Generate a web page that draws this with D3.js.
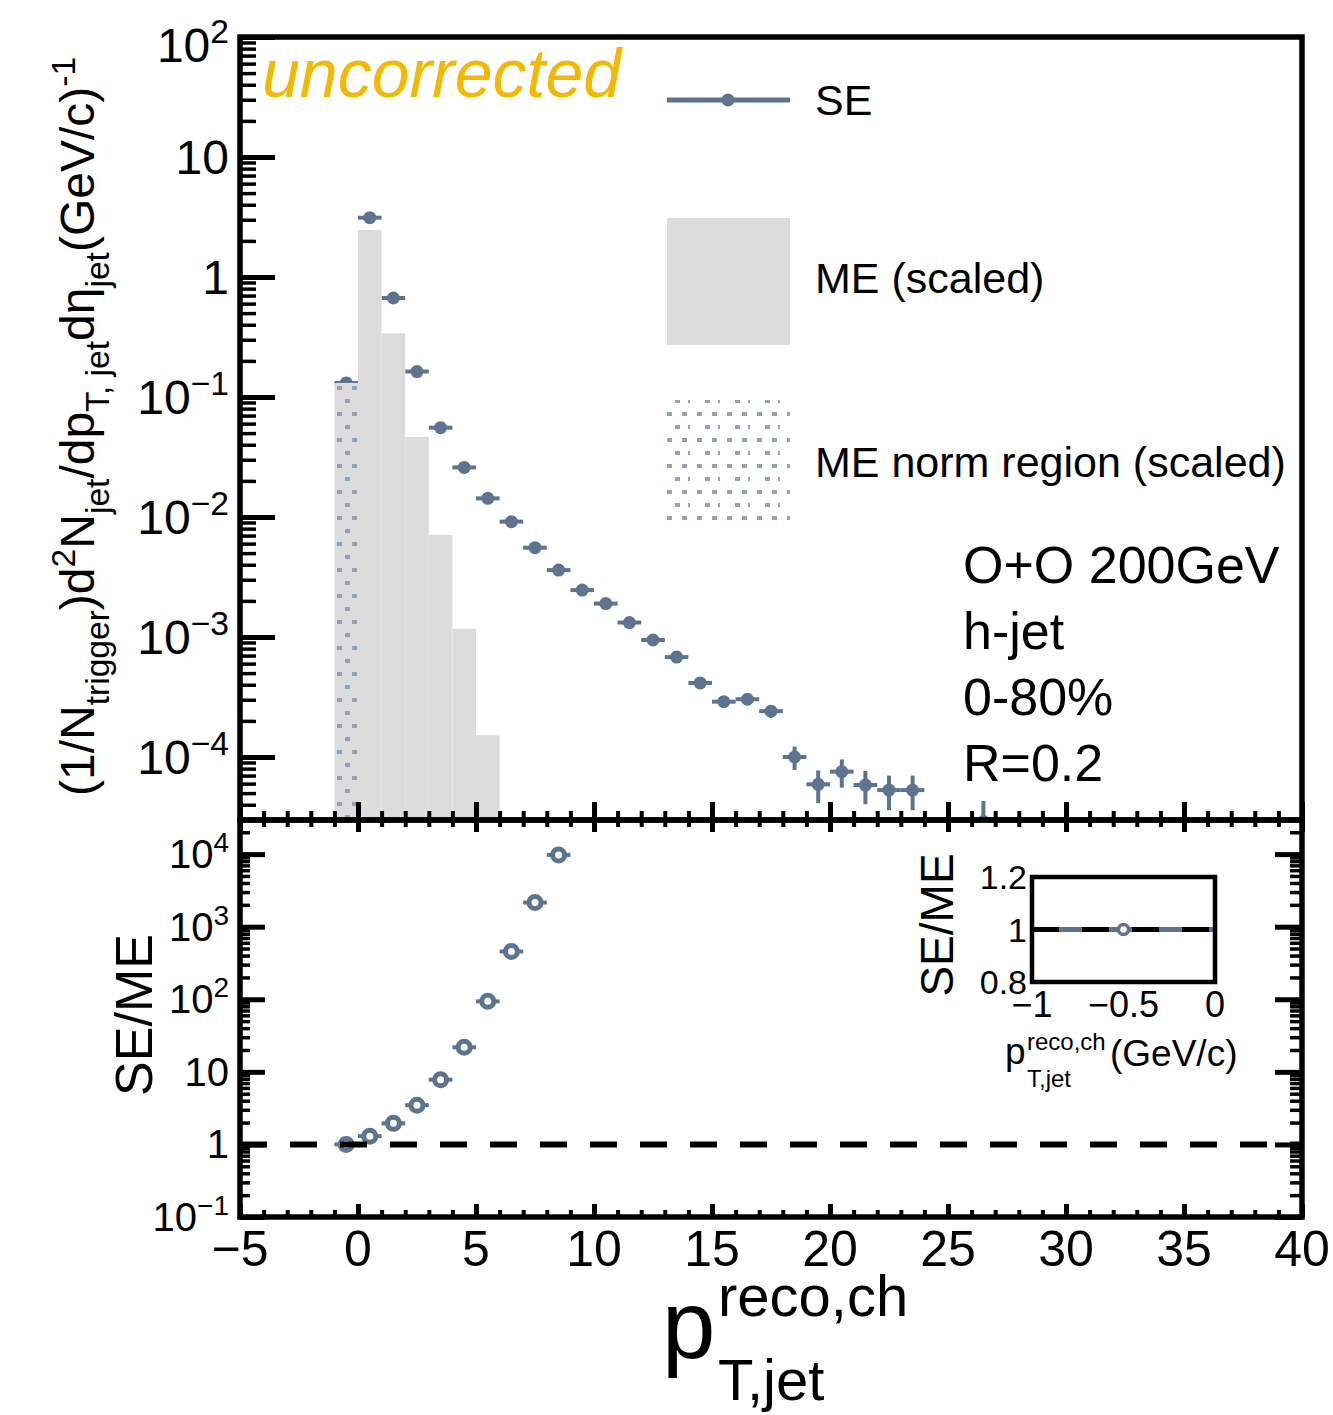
<!DOCTYPE html>
<html>
<head>
<meta charset="utf-8">
<script src="https://cdn.jsdelivr.net/npm/d3@7"></script>
<style>
  body { margin: 0; background: #fff; }
  text { font-family: "Liberation Sans", Arial, Helvetica, sans-serif; fill: #000; }
</style>
</head>
<body>
<svg id="chart" width="1333" height="1415"></svg>
<script>
// ---- data ----
// same-event (SE) spectrum, bin centres in GeV/c
const seX   = [-0.5, 0.5, 1.5, 2.5, 3.5, 4.5, 5.5, 6.5, 7.5, 8.5, 9.5, 10.5, 11.5, 12.5,
               13.5, 14.5, 15.5, 16.5, 17.5, 18.5, 19.5, 20.5, 21.5, 22.5, 23.5, 26.5];
const seY   = [0.131, 3.12, 0.668, 0.163, 0.0555, 0.0259, 0.0143, 0.00915, 0.00555, 0.00361,
               0.00246, 0.00190, 0.00132, 9.44e-4, 6.8e-4, 4.14e-4, 2.89e-4, 3.03e-4, 2.41e-4,
               1.0e-4, 5.92e-5, 7.55e-5, 5.84e-5, 5.3e-5, 5.3e-5, 2.9e-5];
const seErr = [0.002, 0.03, 0.008, 0.002, 0.0008, 0.0004, 0.0003, 0.0002, 0.00015, 0.0001,
               0.00008, 0.00007, 0.00006, 0.00005, 0.00004, 0.00003, 0.000028, 0.00003, 0.000028,
               0.000022, 0.000018, 0.00002, 0.000018, 0.000017, 0.000017, 0.000014];

// mixed-event (ME, scaled) histogram, bin low edges (width 1)
const meLo = [-1, 0, 1, 2, 3, 4, 5];
const meY  = [0.131, 2.47, 0.34, 0.0464, 0.0071, 0.00117, 1.52e-4];
const normRegion = [-1, 0];

// SE/ME ratio
const ratioX = [-0.5, 0.5, 1.5, 2.5, 3.5, 4.5, 5.5, 6.5, 7.5, 8.5];
const ratioY = [1, 1.30, 1.95, 3.47, 7.8, 21.8, 93.6, 456, 2150, 9750];

// inset (norm region ratio)
const insetX = [-0.5];
const insetY = [1];

// tick labels
const xTicks = [-5, 0, 5, 10, 15, 20, 25, 30, 35, 40];
const topYTicks = [[100, "10", "2"], [10, "10", ""], [1, "1", ""], [0.1, "10", "−1"],
                   [0.01, "10", "−2"], [0.001, "10", "−3"], [1e-4, "10", "−4"]];
const botYTicks = [[1e4, "10", "4"], [1e3, "10", "3"], [100, "10", "2"], [10, "10", ""],
                   [1, "1", ""], [0.1, "10", "−1"]];
const insetXTicks = [[-1, "−1"], [-0.5, "−0.5"], [0, "0"]];
const insetYTicks = [[1.2, "1.2"], [1, "1"], [0.8, "0.8"]];
const infoLines = ["O+O 200GeV", "h-jet", "0-80%", "R=0.2"];

// ---- style ----
const seColor = "#5c7490";
const meColor = "#dcdcdc";
const dotColor = "#93a3b6";

const svg = d3.select("#chart");

// scales
const x = d3.scaleLinear().domain([-5, 40]).range([240, 1302]);
const yTop = d3.scaleLog().domain([Math.pow(10, -4.525), 100]).range([820, 37]);
const yBot = d3.scaleLog().domain([0.1, Math.pow(10, 4.47)]).range([1217, 820]);
const xIn = d3.scaleLinear().domain([-1, 0]).range([1032, 1215]);
const yIn = d3.scaleLinear().domain([0.8, 1.2]).range([982, 877]);

// hatch pattern for the norm region
const defs = svg.append("defs");
const pat = defs.append("pattern")
  .attr("id", "dots")
  .attr("patternUnits", "userSpaceOnUse")
  .attr("x", 337).attr("y", 386)
  .attr("width", 30).attr("height", 26);
pat.append("rect").attr("x", 0).attr("y", 0).attr("width", 5).attr("height", 4).attr("fill", dotColor);
pat.append("rect").attr("x", 15).attr("y", 0).attr("width", 5).attr("height", 4).attr("fill", dotColor);
pat.append("rect").attr("x", 8).attr("y", 13).attr("width", 5).attr("height", 4).attr("fill", dotColor);
pat.append("rect").attr("x", 21).attr("y", 13).attr("width", 2).attr("height", 4).attr("fill", dotColor);

defs.append("clipPath").attr("id", "clipTop")
  .append("rect").attr("x", 240).attr("y", 37).attr("width", 1062).attr("height", 783);
defs.append("clipPath").attr("id", "clipBot")
  .append("rect").attr("x", 240).attr("y", 820).attr("width", 1062).attr("height", 397);

// helper: text with sub/superscripts
function rich(g, parts, size) {
  const t = g.append("text").attr("font-size", size);
  let cur = 0;
  parts.forEach(function(p) {
    const kind = p[1] || "n";
    const target = kind === "sub" ? size * 0.32 : kind === "sup" ? -size * 0.4 : 0;
    t.append("tspan")
      .attr("dy", target - cur)
      .attr("font-size", kind === "n" ? size : size * 0.7)
      .text(p[0]);
    cur = target;
  });
  return t;
}

// ================= TOP PANEL =================
const topG = svg.append("g").attr("clip-path", "url(#clipTop)");

// SE points (drawn first, ME bars cover the first one partially)
const se = seX.map(function(d, i) { return {x: d, y: seY[i], e: seErr[i]}; });
topG.selectAll("line.sev").data(se).enter().append("line")
  .attr("x1", d => x(d.x)).attr("x2", d => x(d.x))
  .attr("y1", d => yTop(d.y + d.e)).attr("y2", d => yTop(Math.max(d.y - d.e, 1e-6)))
  .attr("stroke", seColor).attr("stroke-width", 4);
topG.selectAll("line.seh").data(se).enter().append("line")
  .attr("x1", d => x(d.x - 0.5)).attr("x2", d => x(d.x + 0.5))
  .attr("y1", d => yTop(d.y)).attr("y2", d => yTop(d.y))
  .attr("stroke", seColor).attr("stroke-width", 4);
topG.selectAll("circle.se").data(se).enter().append("circle")
  .attr("cx", d => x(d.x)).attr("cy", d => yTop(d.y)).attr("r", 6.5)
  .attr("fill", seColor);

// ME histogram
topG.selectAll("rect.me").data(meLo).enter().append("rect")
  .attr("x", d => x(d))
  .attr("width", d => x(d + 1) - x(d))
  .attr("y", (d, i) => yTop(meY[i]))
  .attr("height", (d, i) => 820 - yTop(meY[i]))
  .attr("fill", meColor);
// norm region overlay
topG.append("rect")
  .attr("x", x(normRegion[0]))
  .attr("width", x(normRegion[1]) - x(normRegion[0]))
  .attr("y", yTop(meY[0]))
  .attr("height", 820 - yTop(meY[0]))
  .attr("fill", "url(#dots)");

// axes of top panel
function styleAxis(g, w) {
  g.select(".domain").remove();
  g.selectAll(".tick line").attr("stroke", "#000").attr("stroke-width", w);
  g.selectAll(".tick text").remove();
}
const decadesTop = d3.range(-4, 3).map(e => Math.pow(10, e));
const minorsTop = [];
d3.range(-5, 2).forEach(function(e) {
  d3.range(2, 10).forEach(function(m) {
    const v = m * Math.pow(10, e);
    if (v > yTop.domain()[0] && v < 100) minorsTop.push(v);
  });
});
svg.append("g").attr("transform", "translate(240,0)")
  .call(d3.axisRight(yTop).tickValues(decadesTop).tickSize(35).tickSizeOuter(0))
  .call(g => styleAxis(g, 5));
svg.append("g").attr("transform", "translate(240,0)")
  .call(d3.axisRight(yTop).tickValues(minorsTop).tickSize(16).tickSizeOuter(0))
  .call(g => styleAxis(g, 3.5));

const xMajor = d3.range(-5, 41, 5);
const xMinor = d3.range(-5, 41, 1).filter(v => v % 5 !== 0);
svg.append("g").attr("transform", "translate(0,820)")
  .call(d3.axisTop(x).tickValues(xMajor).tickSize(18).tickSizeOuter(0))
  .call(g => styleAxis(g, 5));
svg.append("g").attr("transform", "translate(0,820)")
  .call(d3.axisTop(x).tickValues(xMinor).tickSize(9).tickSizeOuter(0))
  .call(g => styleAxis(g, 4));

// frame
svg.append("rect").attr("x", 240).attr("y", 37).attr("width", 1062).attr("height", 783)
  .attr("fill", "none").attr("stroke", "#000").attr("stroke-width", 5.5);

// y tick labels (top)
topYTicks.forEach(function(t) {
  const base = Math.max(yTop(t[0]) + 17, 62);
  const g = svg.append("g").attr("transform", "translate(229," + base + ")");
  const parts = [[t[1]]];
  if (t[2]) parts.push([t[2], "sup"]);
  rich(g, parts, 48).attr("text-anchor", "end");
});

// y title (top)
const yt = svg.append("g").attr("transform", "translate(94,796) rotate(-90)");
rich(yt, [["(1/N"], ["trigger", "sub"], [")d"], ["2", "sup"], ["N"], ["jet", "sub"],
          ["/dp"], ["T, jet", "sub"], ["dη"], ["jet", "sub"], ["(GeV/c)"], ["-1", "sup"]], 48);

// "uncorrected"
svg.append("text").attr("x", 262).attr("y", 97)
  .attr("font-size", 68).attr("font-style", "italic")
  .style("fill", "#f5b800").text("uncorrected");

// legend
const leg = svg.append("g");
leg.append("line").attr("x1", 667).attr("x2", 790).attr("y1", 100).attr("y2", 100)
  .attr("stroke", seColor).attr("stroke-width", 5);
leg.append("circle").attr("cx", 728).attr("cy", 100).attr("r", 6.5).attr("fill", seColor);
leg.append("text").attr("x", 815).attr("y", 115).attr("font-size", 43).text("SE");
leg.append("rect").attr("x", 667).attr("y", 218).attr("width", 123).attr("height", 127)
  .attr("fill", meColor);
leg.append("text").attr("x", 815).attr("y", 293).attr("font-size", 43).text("ME (scaled)");
leg.append("rect").attr("x", 667).attr("y", 400).attr("width", 123).attr("height", 122)
  .attr("fill", "url(#dots)");
leg.append("text").attr("x", 815).attr("y", 477).attr("font-size", 43).text("ME norm region (scaled)");

// info text
svg.selectAll("text.info").data(infoLines).enter().append("text")
  .attr("class", "info")
  .attr("x", 963).attr("y", (d, i) => 583 + i * 66)
  .attr("font-size", 52).text(d => d);

// ================= BOTTOM PANEL =================
const botG = svg.append("g").attr("clip-path", "url(#clipBot)");
const ratio = ratioX.map((d, i) => ({x: d, y: ratioY[i]}));
botG.selectAll("line.rh").data(ratio).enter().append("line")
  .attr("x1", d => x(d.x - 0.5)).attr("x2", d => x(d.x + 0.5))
  .attr("y1", d => yBot(d.y)).attr("y2", d => yBot(d.y))
  .attr("stroke", seColor).attr("stroke-width", 4);
botG.selectAll("circle.r").data(ratio).enter().append("circle")
  .attr("cx", d => x(d.x)).attr("cy", d => yBot(d.y)).attr("r", 6)
  .attr("fill", "#fff").attr("stroke", seColor).attr("stroke-width", 5);
botG.append("line")
  .attr("x1", x(-5)).attr("x2", x(40)).attr("y1", yBot(1)).attr("y2", yBot(1))
  .attr("stroke", "#000").attr("stroke-width", 6).attr("stroke-dasharray", "27,23");

const decadesBot = d3.range(-1, 5).map(e => Math.pow(10, e));
const minorsBot = [];
d3.range(-1, 5).forEach(function(e) {
  d3.range(2, 10).forEach(function(m) {
    const v = m * Math.pow(10, e);
    if (v < yBot.domain()[1]) minorsBot.push(v);
  });
});
svg.append("g").attr("transform", "translate(240,0)")
  .call(d3.axisRight(yBot).tickValues(decadesBot).tickSize(25).tickSizeOuter(0))
  .call(g => styleAxis(g, 5));
svg.append("g").attr("transform", "translate(240,0)")
  .call(d3.axisRight(yBot).tickValues(minorsBot).tickSize(10).tickSizeOuter(0))
  .call(g => styleAxis(g, 3.5));
svg.append("g").attr("transform", "translate(1302,0)")
  .call(d3.axisLeft(yBot).tickValues(decadesBot).tickSize(27).tickSizeOuter(0))
  .call(g => styleAxis(g, 5));
svg.append("g").attr("transform", "translate(1302,0)")
  .call(d3.axisLeft(yBot).tickValues(minorsBot).tickSize(12).tickSizeOuter(0))
  .call(g => styleAxis(g, 3.5));
svg.append("g").attr("transform", "translate(0,820)")
  .call(d3.axisBottom(x).tickValues(xMajor).tickSize(12).tickSizeOuter(0))
  .call(g => styleAxis(g, 5));
svg.append("g").attr("transform", "translate(0,820)")
  .call(d3.axisBottom(x).tickValues(xMinor).tickSize(7).tickSizeOuter(0))
  .call(g => styleAxis(g, 4));
svg.append("g").attr("transform", "translate(0,1217)")
  .call(d3.axisTop(x).tickValues(xMajor).tickSize(13).tickSizeOuter(0))
  .call(g => styleAxis(g, 5));
svg.append("g").attr("transform", "translate(0,1217)")
  .call(d3.axisTop(x).tickValues(xMinor).tickSize(7).tickSizeOuter(0))
  .call(g => styleAxis(g, 4));

svg.append("rect").attr("x", 240).attr("y", 820).attr("width", 1062).attr("height", 397)
  .attr("fill", "none").attr("stroke", "#000").attr("stroke-width", 5.5);

botYTicks.forEach(function(t) {
  const g = svg.append("g").attr("transform", "translate(229," + (yBot(t[0]) + 14) + ")");
  const parts = [[t[1]]];
  if (t[2]) parts.push([t[2], "sup"]);
  rich(g, parts, 40).attr("text-anchor", "end");
});

svg.selectAll("text.xl").data(xTicks).enter().append("text")
  .attr("class", "xl")
  .attr("x", d => x(d)).attr("y", 1266)
  .attr("text-anchor", "middle").attr("font-size", 50)
  .text(d => d < 0 ? "−" + Math.abs(d) : d);

svg.append("text").attr("transform", "translate(152,1015) rotate(-90)")
  .attr("text-anchor", "middle").attr("font-size", 52).text("SE/ME");

// x title
svg.append("text").attr("x", 662).attr("y", 1358).attr("font-size", 96).text("p");
svg.append("text").attr("x", 718).attr("y", 1316).attr("font-size", 58).text("reco,ch");
svg.append("text").attr("x", 718).attr("y", 1400).attr("font-size", 58).text("T,jet");

// ================= INSET =================
const ins = svg.append("g");
ins.append("rect").attr("x", 1032).attr("y", 877).attr("width", 183).attr("height", 105)
  .attr("fill", "#fff");
const inPts = insetX.map((d, i) => ({x: d, y: insetY[i]}));
ins.selectAll("line.ih").data(inPts).enter().append("line")
  .attr("x1", d => xIn(d.x - 0.5)).attr("x2", d => xIn(d.x + 0.5))
  .attr("y1", d => yIn(d.y)).attr("y2", d => yIn(d.y))
  .attr("stroke", seColor).attr("stroke-width", 5);
ins.selectAll("circle.ic").data(inPts).enter().append("circle")
  .attr("cx", d => xIn(d.x)).attr("cy", d => yIn(d.y)).attr("r", 5)
  .attr("fill", "#fff").attr("stroke", seColor).attr("stroke-width", 3.5);
ins.append("line")
  .attr("x1", xIn(-1)).attr("x2", xIn(0)).attr("y1", yIn(1)).attr("y2", yIn(1))
  .attr("stroke", "#000").attr("stroke-width", 5).attr("stroke-dasharray", "27,23");
ins.append("rect").attr("x", 1032).attr("y", 877).attr("width", 183).attr("height", 105)
  .attr("fill", "none").attr("stroke", "#000").attr("stroke-width", 4.5);

ins.selectAll("text.iy").data(insetYTicks).enter().append("text")
  .attr("x", 1027).attr("y", d => yIn(d[0]) + 12)
  .attr("text-anchor", "end").attr("font-size", 34).text(d => d[1]);
ins.selectAll("text.ix").data(insetXTicks).enter().append("text")
  .attr("x", d => xIn(d[0])).attr("y", 1017)
  .attr("text-anchor", "middle").attr("font-size", 36).text(d => d[1]);
ins.append("text").attr("transform", "translate(953,925) rotate(-90)")
  .attr("text-anchor", "middle").attr("font-size", 46).text("SE/ME");
ins.append("text").attr("x", 1005).attr("y", 1064).attr("font-size", 37).text("p");
ins.append("text").attr("x", 1027).attr("y", 1050).attr("font-size", 24).text("reco,ch");
ins.append("text").attr("x", 1027).attr("y", 1087).attr("font-size", 24).text("T,jet");
ins.append("text").attr("x", 1110).attr("y", 1066).attr("font-size", 37).text("(GeV/c)");
</script>
</body>
</html>
